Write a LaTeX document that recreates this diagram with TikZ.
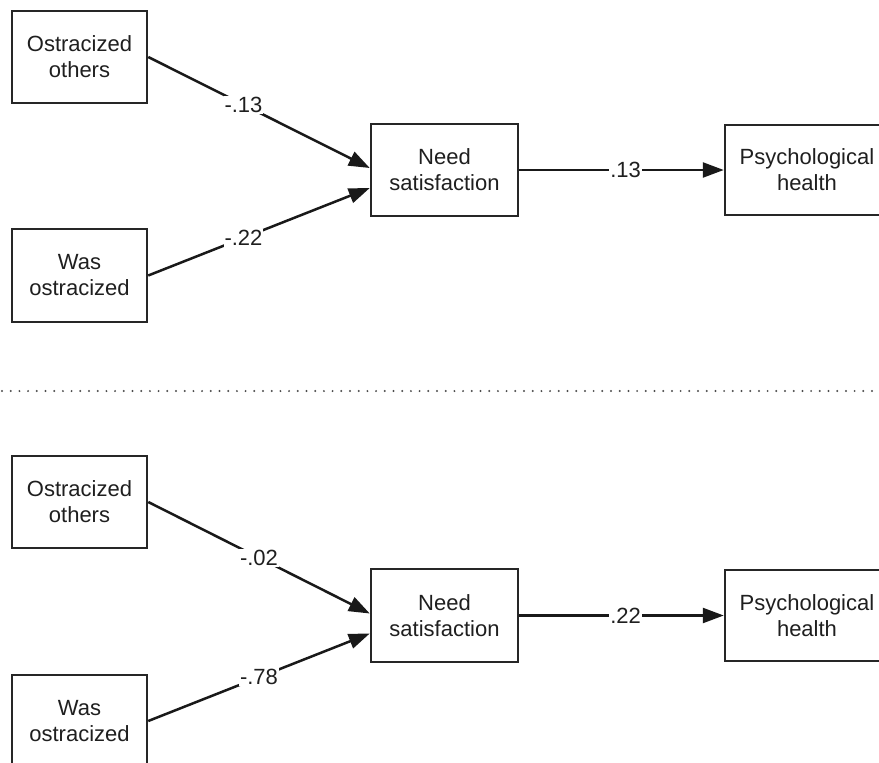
\documentclass[tikz,border=0pt]{standalone}
\usepackage{fontspec}
\setmainfont{Liberation Sans}
\usetikzlibrary{arrows.meta}
\begin{document}
\begin{tikzpicture}[x=1pt,y=-1pt,
  box/.style={draw=black!85, line width=2.5pt, fill=white, align=center,
    font=\fontsize{22}{26}\selectfont, text=black!88, inner sep=0pt},
  link/.style={draw=black!90, line width=2.5pt, -{Triangle[length=21pt,width=15pt]}},
  lbl/.style={fill=white, inner sep=1pt, text=black!88, font=\fontsize{22}{26}\selectfont},
  sep/.style={draw=black!70, line width=2.2pt, line cap=round, dash pattern=on 0pt off 8.7pt}]
\useasboundingbox (0,0) rectangle (879,763);
\clip (0,0) rectangle (879,763);
% top panel
\node[box, minimum width=135pt, minimum height=92pt] (oo1) at (79.5,57) {Ostracized\\others};
\node[box, minimum width=135pt, minimum height=93pt] (wo1) at (79.5,275.5) {Was\\ostracized};
\node[box, minimum width=147pt, minimum height=92pt] (n1) at (444.5,170) {Need\\satisfaction};
\node[box, minimum width=164pt, minimum height=90pt] (p1) at (807,170) {Psychological\\health};
\draw[link] (oo1.east) -- ([yshift=2pt]n1.west) node[lbl,pos=0.43]{-.13};
\draw[link] (wo1.east) -- ([yshift=-18pt]n1.west) node[lbl,pos=0.43]{-.22};
\draw[link] (n1.east) -- (p1.west) node[lbl,pos=0.52]{.13};
% separator
\coordinate (sl) at (2,391);
\coordinate (sr) at (879,391);
\draw[sep] (sl) -- (sr);
% bottom panel
\node[box, minimum width=135pt, minimum height=92pt] (oo2) at (79.5,502) {Ostracized\\others};
\node[box, minimum width=135pt, minimum height=92pt] (wo2) at (79.5,721) {Was\\ostracized};
\node[box, minimum width=147pt, minimum height=93pt] (n2) at (444.5,615.5) {Need\\satisfaction};
\node[box, minimum width=164pt, minimum height=91pt] (p2) at (807,615.5) {Psychological\\health};
\draw[link] (oo2.east) -- ([yshift=2pt]n2.west) node[lbl,pos=0.5]{-.02};
\draw[link] (wo2.east) -- ([yshift=-18pt]n2.west) node[lbl,pos=0.5]{-.78};
\draw[link] (n2.east) -- (p2.west) node[lbl,pos=0.52]{.22};
\end{tikzpicture}
\end{document}
